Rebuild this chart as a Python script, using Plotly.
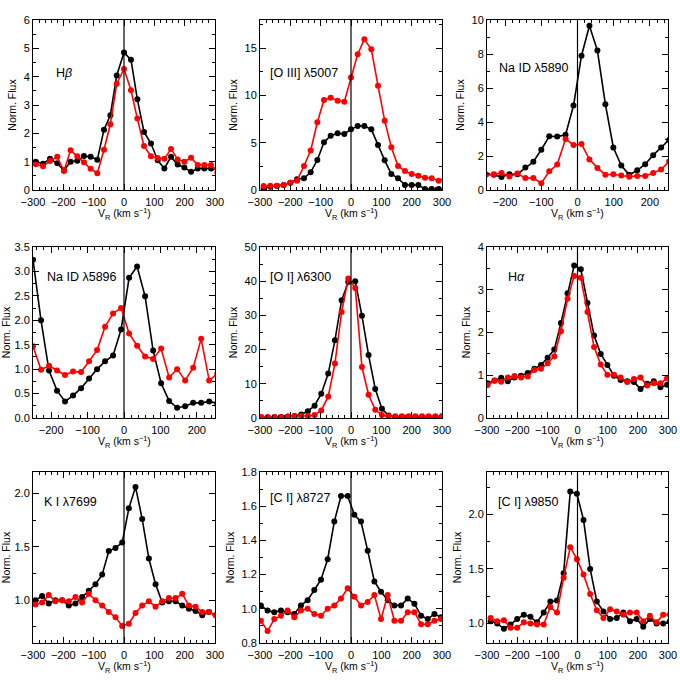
import plotly.graph_objects as go

# ---------------- data ----------------
titles = ["H<i>β</i>", "[O III] λ5007", "Na ID λ5890",
          "Na ID λ5896", "[O I] λ6300", "H<i>α</i>",
          "K I λ7699", "[C I] λ8727", "[C I] λ9850"]

v_hb = [-291, -267, -244, -220, -198, -176, -154, -132, -110, -88, -66, -45, -24, 0,
        23, 44, 66, 89, 111, 133, 155, 177, 199, 221, 243, 265, 287, 308]
hb_black = [1.0, 0.93, 1.1, 0.94, 0.7, 1.0, 1.03, 1.2, 1.17, 1.07, 2.13, 2.64, 4.04, 4.85,
            4.6, 3.2, 2.05, 1.64, 1.05, 0.76, 1.17, 0.9, 0.79, 0.64, 0.76, 0.76, 0.76, 0.76]
hb_red = [0.91, 0.84, 1.02, 1.17, 0.67, 1.4, 1.19, 0.98, 0.75, 0.59, 1.42, 2.32, 3.75, 4.27,
          3.52, 2.52, 1.55, 1.19, 1.13, 1.1, 1.45, 1.08, 1.0, 1.14, 0.88, 0.88, 0.88, 0.62]

v_o3 = [-288, -266, -244, -222, -200, -178, -155, -133, -111, -89, -67, -44, -22, 0,
        22, 44, 67, 89, 111, 133, 155, 178, 200, 222, 244, 266, 289, 311]
o3_black = [0.18, 0.35, 0.42, 0.53, 0.78, 1.13, 1.24, 1.87, 3.18, 5.05, 5.75, 6.0, 5.93, 6.42,
            6.78, 6.78, 6.42, 4.77, 3.14, 1.69, 1.24, 0.53, 0.53, 0.53, 0.1, 0.1, 0.1, 0.1]
o3_red = [0.42, 0.46, 0.46, 0.53, 0.78, 0.99, 2.54, 4.17, 7.17, 9.53, 9.78, 9.46, 9.35, 11.9,
          14.37, 15.95, 14.9, 11.05, 7.34, 4.52, 2.54, 2.0, 1.69, 1.52, 1.3, 1.24, 0.99, 1.3]

v_na1 = [-253, -231, -210, -188, -166, -144, -122, -100, -78, -56, -33, -11,
         11, 33, 55, 77, 99, 121, 143, 165, 187, 209, 231, 253]
na1_black = [0.92, 0.89, 0.77, 0.93, 0.93, 1.32, 1.66, 2.37, 3.16, 3.14, 3.25, 4.97,
             7.9, 9.66, 8.2, 5.05, 2.5, 1.44, 0.89, 1.16, 1.52, 2.05, 2.5, 2.95]
na1_red = [0.9, 0.92, 1.0, 0.8, 0.97, 0.7, 0.7, 0.4, 1.1, 1.5, 3.0, 2.65,
           2.7, 1.8, 1.3, 0.9, 0.93, 0.85, 0.78, 0.83, 0.83, 1.0, 1.2, 1.68]

v_na2 = [-250, -228, -206, -184, -162, -140, -118, -96, -74, -52, -30, -8,
         14, 36, 58, 80, 102, 124, 146, 168, 190, 212, 234, 256]
na2_black = [3.24, 2.0, 0.97, 0.56, 0.34, 0.46, 0.61, 0.81, 1.0, 1.16, 1.28, 1.81,
             2.87, 3.1, 2.49, 1.38, 0.71, 0.35, 0.21, 0.24, 0.31, 0.31, 0.34, 0.3]
na2_red = [1.47, 0.99, 1.07, 0.97, 0.88, 0.95, 0.94, 1.16, 1.39, 1.87, 2.14, 2.25,
           1.73, 1.48, 1.26, 1.21, 1.42, 0.83, 1.0, 0.77, 1.03, 1.62, 0.77, 0.9]

v_o1 = [-296, -274, -252, -230, -208, -186, -164, -142, -120, -98, -75, -53, -31, -9,
        14, 36, 58, 80, 102, 124, 146, 168, 190, 212, 234, 256, 278, 300]
o1_black = [0.1, 0.15, 0.2, 0.3, 0.45, 0.6, 1.0, 2.0, 3.6, 7.1, 13.0, 22.7, 34.4, 39.8,
            40.0, 29.9, 18.4, 8.5, 2.7, 0.7, 0.3, 0.3, 0.3, 0.3, 0.3, 0.3, 0.3, 0.3]
o1_red = [0.3, 0.3, 0.3, 0.3, 0.4, 0.5, 0.6, 0.6, 0.9, 2.2, 6.3, 15.9, 31.0, 40.8,
          38.0, 14.9, 6.8, 2.4, 0.9, 0.5, 0.5, 0.5, 0.5, 0.5, 0.5, 0.5, 0.5, 0.6]

v_ha = [-298, -275, -253, -231, -209, -187, -165, -143, -121, -99, -77, -55, -33, -11,
        11, 33, 55, 77, 99, 121, 143, 165, 187, 209, 231, 253, 275, 297]
ha_black = [0.81, 0.88, 0.94, 0.86, 0.95, 0.99, 1.05, 1.15, 1.24, 1.41, 1.6, 2.22, 2.92, 3.57,
            3.48, 2.69, 1.93, 1.5, 1.24, 0.99, 0.89, 0.86, 0.84, 0.68, 0.8, 0.86, 0.72, 0.78]
ha_red = [0.77, 0.87, 0.85, 0.95, 0.98, 0.95, 0.97, 1.12, 1.15, 1.28, 1.44, 2.03, 2.79, 3.32,
          3.28, 2.48, 1.66, 1.25, 1.01, 1.01, 0.95, 0.84, 0.91, 0.95, 0.76, 0.81, 0.81, 0.93]

v_k1 = [-292, -270, -248, -226, -204, -182, -160, -138, -116, -94, -72, -50, -28, -6,
        16, 38, 60, 82, 104, 126, 148, 170, 192, 214, 236, 258, 280, 302]
k1_black = [1.0, 1.04, 0.97, 1.0, 1.0, 0.95, 0.97, 1.03, 1.09, 1.15, 1.24, 1.46, 1.49, 1.54,
            1.86, 2.06, 1.76, 1.39, 1.15, 0.98, 0.99, 0.99, 0.95, 0.92, 0.9, 0.86, 0.89, 0.86]
k1_red = [0.96, 0.98, 1.05, 0.99, 1.0, 0.99, 1.03, 0.98, 1.06, 1.0, 0.95, 0.89, 0.84, 0.76,
          0.78, 0.88, 0.95, 0.99, 0.94, 0.99, 1.02, 1.02, 1.06, 0.95, 0.94, 0.89, 0.89, 0.86]

v_c1a = [-297, -275, -253, -231, -209, -187, -165, -143, -121, -99, -77, -55, -33, -11,
         11, 33, 55, 77, 99, 121, 143, 165, 187, 209, 231, 253, 275, 297]
c1a_black = [1.02, 0.99, 0.98, 0.99, 0.98, 0.97, 1.02, 1.05, 1.11, 1.17, 1.29, 1.51, 1.66, 1.66,
             1.55, 1.51, 1.34, 1.16, 1.1, 1.05, 1.02, 1.02, 1.06, 1.03, 0.96, 0.94, 0.97, 0.95]
c1a_red = [0.93, 0.87, 0.94, 0.96, 0.99, 0.95, 0.99, 1.0, 0.97, 0.96, 1.0, 1.02, 1.06, 1.12,
           1.07, 1.02, 1.04, 1.08, 0.94, 1.08, 0.93, 0.93, 0.98, 0.98, 0.91, 0.91, 0.93, 0.94]

v_c1b = [-288, -266, -244, -222, -200, -178, -156, -134, -112, -90, -68, -46, -24, -2,
         20, 42, 64, 86, 108, 130, 152, 174, 196, 218, 240, 262, 284, 306]
c1b_black = [1.02, 1.0, 0.95, 0.99, 1.04, 1.08, 1.06, 1.01, 1.1, 1.2, 1.21, 1.46, 2.21, 2.19,
             1.95, 1.5, 1.2, 1.11, 1.04, 1.05, 1.1, 1.02, 1.04, 0.97, 1.04, 1.0, 1.0, 1.02]
c1b_red = [1.05, 1.02, 1.03, 0.96, 0.96, 1.01, 1.0, 0.99, 0.99, 1.15, 1.1, 1.42, 1.7, 1.59,
           1.45, 1.27, 1.12, 1.05, 1.13, 1.11, 1.08, 1.1, 1.1, 1.02, 1.07, 1.01, 1.08, 1.08]

panels = [
    (v_hb, hb_black, hb_red), (v_o3, o3_black, o3_red), (v_na1, na1_black, na1_red),
    (v_na2, na2_black, na2_red), (v_o1, o1_black, o1_red), (v_ha, ha_black, ha_red),
    (v_k1, k1_black, k1_red), (v_c1a, c1a_black, c1a_red), (v_c1b, c1b_black, c1b_red),
]

x_ranges = [[-300, 300], [-300, 300], [-250, 250],
            [-250, 250], [-300, 300], [-300, 300],
            [-300, 300], [-300, 300], [-300, 300]]
y_ranges = [[0, 6], [0, 18], [0, 10],
            [0, 3.5], [0, 50], [0, 4],
            [0.6, 2.2], [0.8, 1.8], [0.82, 2.39]]
y_dticks = [1, 5, 2, 0.5, 10, 1, 0.5, 0.2, 0.5]
y_formats = ["d", "d", "d", ".1f", "d", "d", ".1f", ".1f", ".1f"]

# ---------------- layout geometry ----------------
W = H = 680
cols_px = [(33, 215), (260, 442), (487, 668)]
rows_px = [(20, 190), (247, 418), (472, 643)]
label_pos = [(0.115, 0.69), (0.045, 0.69), (0.055, 0.72),
             (0.066, 0.825), (0.045, 0.825), (0.105, 0.825),
             (0.05, 0.825), (0.045, 0.848), (0.05, 0.825)]

fig = go.Figure()
font_family = "Liberation Sans, Arial, sans-serif"
layout = dict(
    width=W, height=H, margin=dict(l=0, r=0, t=0, b=0),
    paper_bgcolor="white", plot_bgcolor="white", showlegend=False,
    font=dict(family=font_family, color="black", size=11),
)
shapes = []
annotations = []

for i, (v, blk, red) in enumerate(panels):
    r, c = divmod(i, 3)
    n = "" if i == 0 else str(i + 1)
    xa, ya = "x" + n, "y" + n
    for vals, col in ((blk, "black"), (red, "#ff0000")):
        fig.add_trace(go.Scatter(
            x=v, y=vals, xaxis=xa, yaxis=ya, mode="lines+markers",
            line=dict(color=col, width=1.6),
            marker=dict(color=col, size=6), cliponaxis=True))
    x0, x1 = cols_px[c]
    y0, y1 = rows_px[r]
    layout["xaxis" + n] = dict(
        domain=[x0 / W, x1 / W], anchor=ya, range=x_ranges[i],
        showgrid=False, zeroline=False, showline=True, linecolor="black", linewidth=1,
        mirror="allticks", ticks="inside", ticklen=6, tickwidth=1, tickcolor="black",
        dtick=100, tick0=0, tickfont=dict(size=11), ticklabelstandoff=2,
        minor=dict(dtick=20, tick0=0, ticks="inside", ticklen=3, tickcolor="black", showgrid=False),
        automargin=False,
    )
    layout["yaxis" + n] = dict(
        domain=[1 - y1 / H, 1 - y0 / H], anchor=xa, range=y_ranges[i],
        showgrid=False, zeroline=False, showline=True, linecolor="black", linewidth=1,
        mirror="allticks", ticks="inside", ticklen=6, tickwidth=1, tickcolor="black",
        dtick=y_dticks[i], tick0=0, tickformat=y_formats[i], tickfont=dict(size=11),
        minor=dict(dtick=y_dticks[i] / 2, tick0=0, ticks="inside", ticklen=3,
                   tickcolor="black", showgrid=False),
        title=dict(text="Norm. Flux", font=dict(size=10.5), standoff=4),
        automargin=False,
    )
    shapes.append(dict(type="line", xref=xa, yref=ya + " domain", x0=0, x1=0, y0=0, y1=1,
                       line=dict(color="black", width=1.2)))
    lx, ly = label_pos[i]
    annotations.append(dict(text=titles[i], xref=xa + " domain", yref=ya + " domain",
                            x=lx, y=ly, xanchor="left", yanchor="middle", showarrow=False,
                            font=dict(size=12.5, family=font_family)))
    # x-axis title placed just below the tick labels
    annotations.append(dict(text="V<sub>R</sub> (km s<sup>−1</sup>)", xref="paper", yref="paper",
                            x=(x0 + x1) / 2 / W, y=1 - (y1 + 24) / H,
                            xanchor="center", yanchor="middle", showarrow=False,
                            font=dict(size=10.5, family=font_family)))

layout["shapes"] = shapes
layout["annotations"] = annotations
fig.update_layout(**layout)
fig.write_html("out.html", config={"displayModeBar": False},
               post_script="document.body.style.margin='0px';document.body.style.padding='0px';")
